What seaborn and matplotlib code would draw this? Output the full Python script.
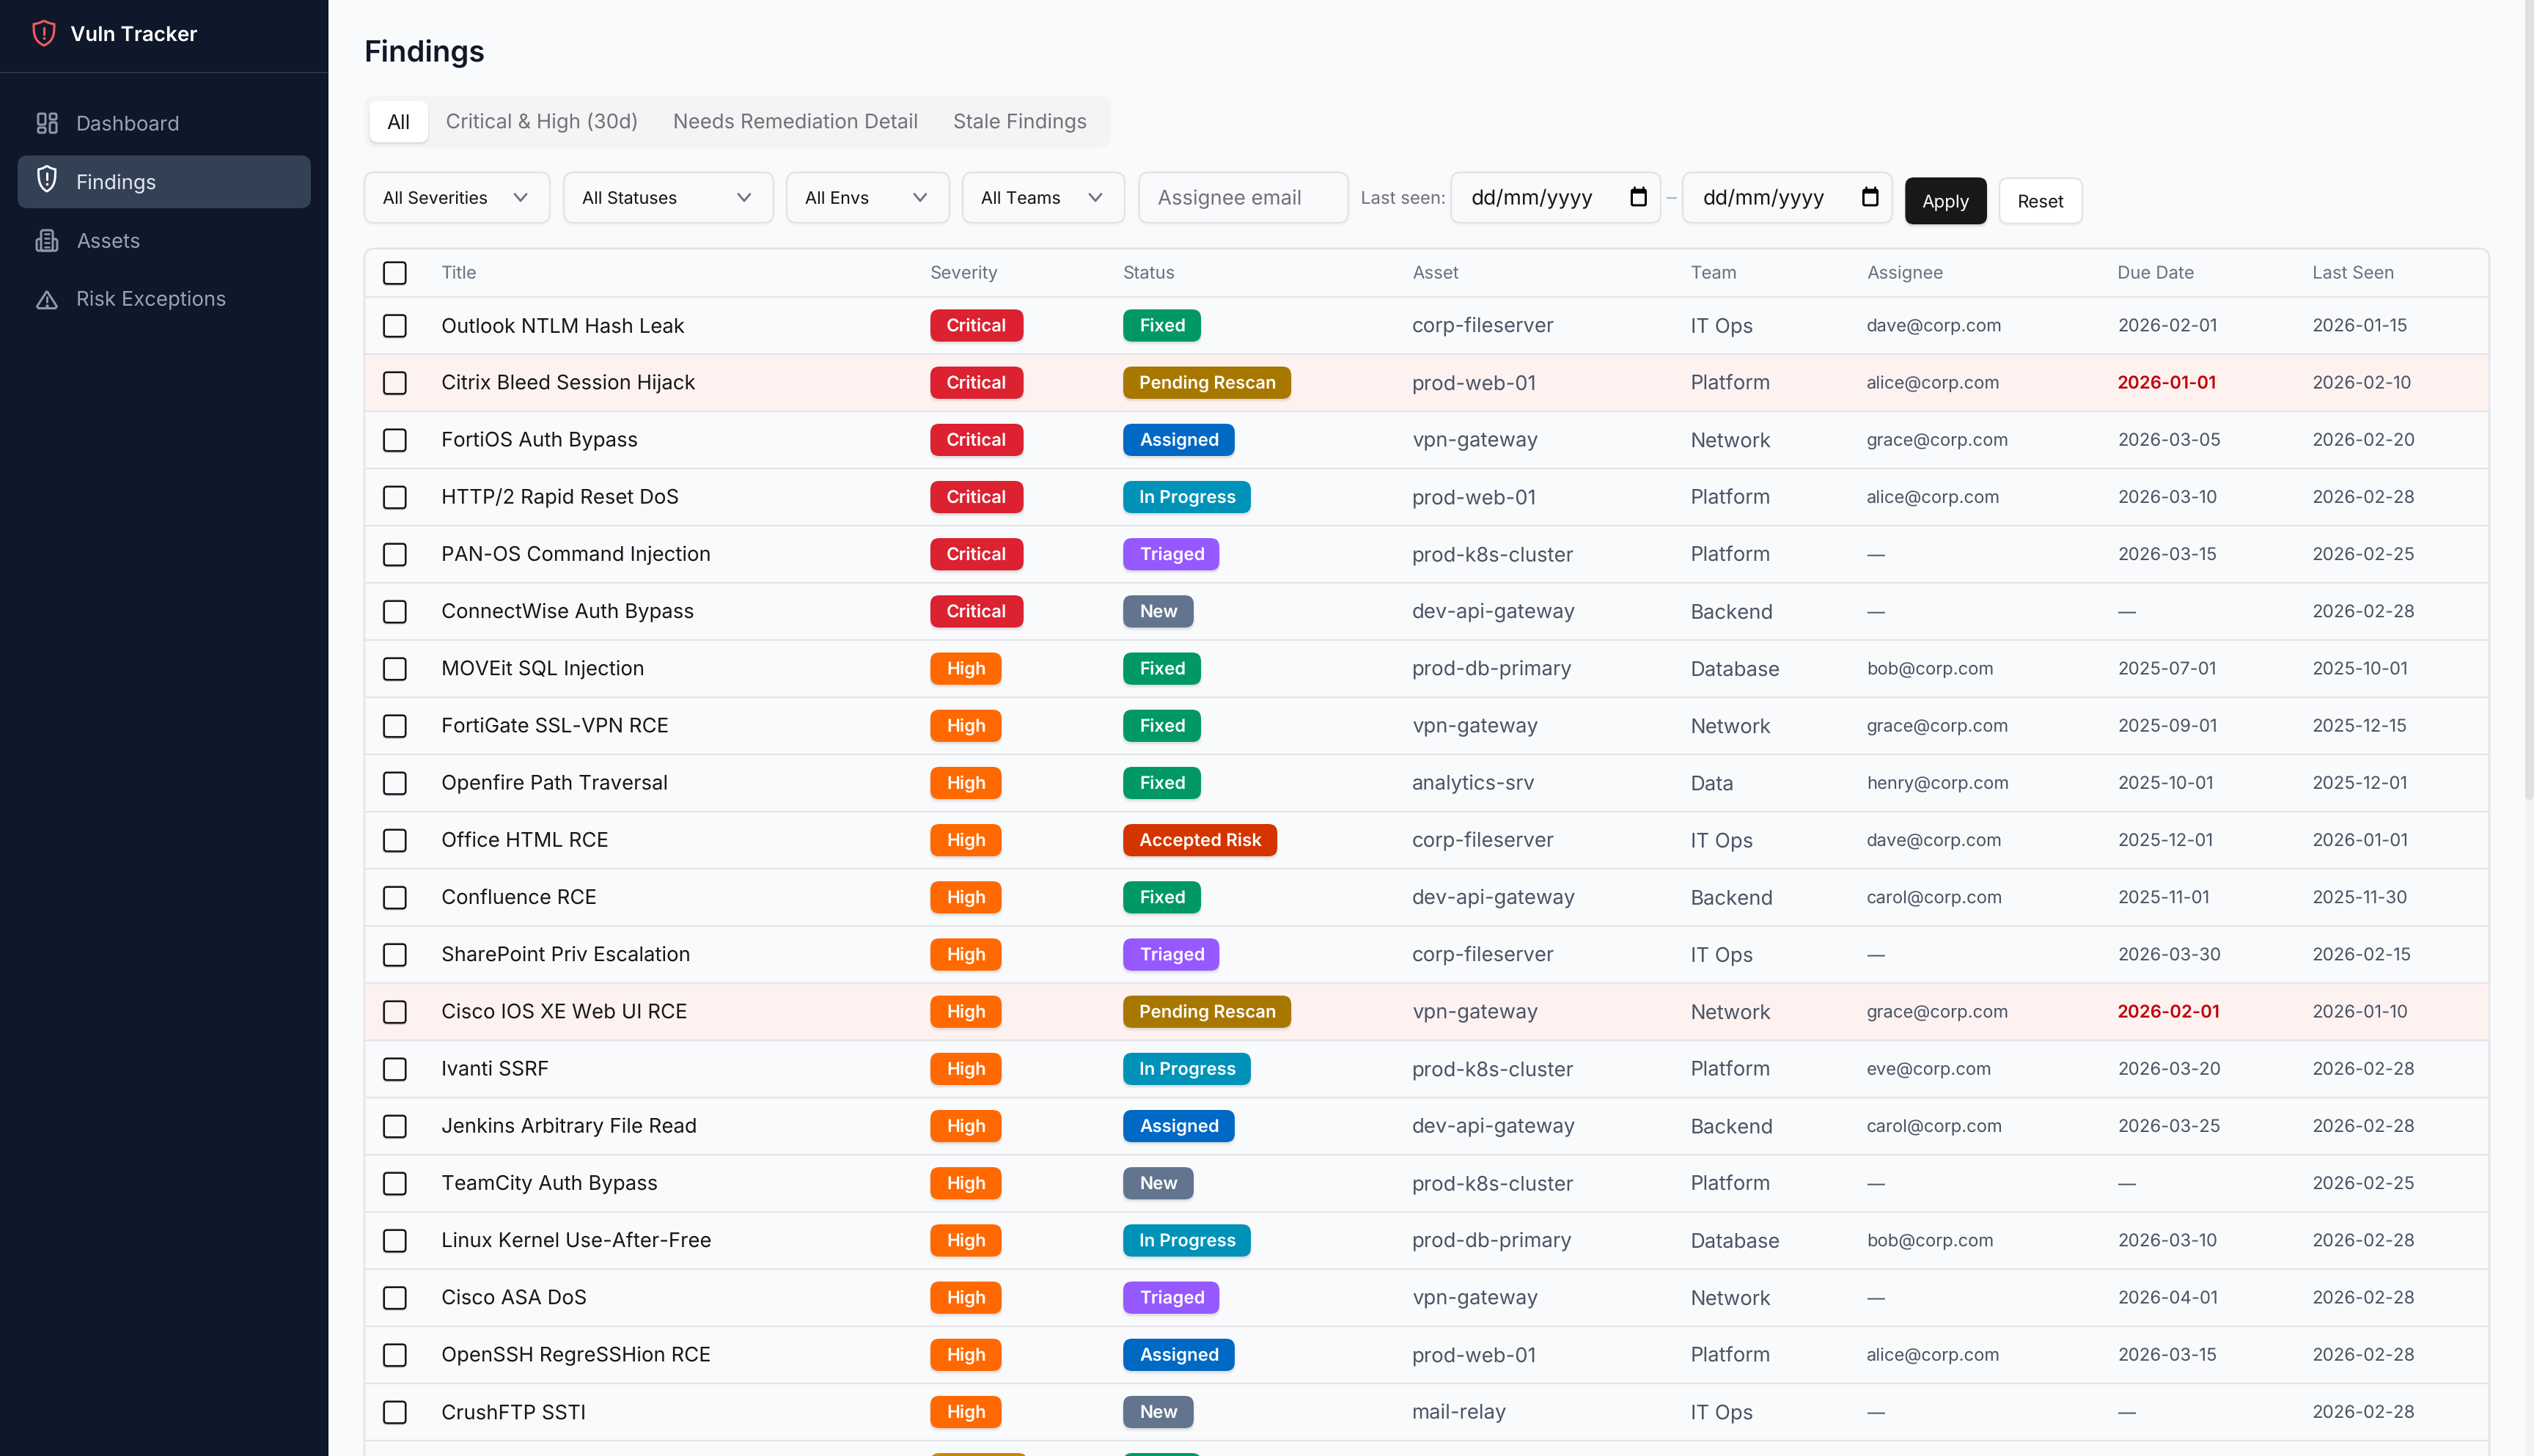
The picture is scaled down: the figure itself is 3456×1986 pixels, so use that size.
import matplotlib
matplotlib.use("Agg")
import matplotlib.pyplot as plt
from matplotlib.patches import FancyBboxPatch, Rectangle, PathPatch
from matplotlib.path import Path
from matplotlib.markers import MarkerStyle
import numpy as np
import pandas as pd
import seaborn as sns

# ---------- data ----------
app_name = "Vuln Tracker"
page_title = "Findings"
nav_items = ["Dashboard", "Findings", "Assets", "Risk Exceptions"]
tabs = ["All", "Critical & High (30d)", "Needs Remediation Detail", "Stale Findings"]
selects = ["All Severities", "All Statuses", "All Envs", "All Teams"]
headers = ["Title", "Severity", "Status", "Asset", "Team", "Assignee", "Due Date", "Last Seen"]

titles = ["Outlook NTLM Hash Leak", "Citrix Bleed Session Hijack", "FortiOS Auth Bypass", "HTTP/2 Rapid Reset DoS",
          "PAN-OS Command Injection", "ConnectWise Auth Bypass", "MOVEit SQL Injection", "FortiGate SSL-VPN RCE",
          "Openfire Path Traversal", "Office HTML RCE", "Confluence RCE", "SharePoint Priv Escalation",
          "Cisco IOS XE Web UI RCE", "Ivanti SSRF", "Jenkins Arbitrary File Read", "TeamCity Auth Bypass",
          "Linux Kernel Use-After-Free", "Cisco ASA DoS", "OpenSSH RegreSSHion RCE", "CrushFTP SSTI", ""]
severities = ["Critical"] * 6 + ["High"] * 14 + ["Medium"]
statuses = ["Fixed", "Pending Rescan", "Assigned", "In Progress", "Triaged", "New", "Fixed", "Fixed", "Fixed",
            "Accepted Risk", "Fixed", "Triaged", "Pending Rescan", "In Progress", "Assigned", "New", "In Progress",
            "Triaged", "Assigned", "New", "Fixed"]
assets = ["corp-fileserver", "prod-web-01", "vpn-gateway", "prod-web-01", "prod-k8s-cluster", "dev-api-gateway",
          "prod-db-primary", "vpn-gateway", "analytics-srv", "corp-fileserver", "dev-api-gateway", "corp-fileserver",
          "vpn-gateway", "prod-k8s-cluster", "dev-api-gateway", "prod-k8s-cluster", "prod-db-primary", "vpn-gateway",
          "prod-web-01", "mail-relay", ""]
teams = ["IT Ops", "Platform", "Network", "Platform", "Platform", "Backend", "Database", "Network", "Data", "IT Ops",
         "Backend", "IT Ops", "Network", "Platform", "Backend", "Platform", "Database", "Network", "Platform", "IT Ops", ""]
assignees = ["dave@corp.com", "alice@corp.com", "grace@corp.com", "alice@corp.com", "—", "—", "bob@corp.com",
             "grace@corp.com", "henry@corp.com", "dave@corp.com", "carol@corp.com", "—", "grace@corp.com",
             "eve@corp.com", "carol@corp.com", "—", "bob@corp.com", "—", "alice@corp.com", "—", ""]
due_dates = ["2026-02-01", "2026-01-01", "2026-03-05", "2026-03-10", "2026-03-15", "—", "2025-07-01", "2025-09-01",
             "2025-10-01", "2025-12-01", "2025-11-01", "2026-03-30", "2026-02-01", "2026-03-20", "2026-03-25", "—",
             "2026-03-10", "2026-04-01", "2026-03-15", "—", ""]
last_seen = ["2026-01-15", "2026-02-10", "2026-02-20", "2026-02-28", "2026-02-25", "2026-02-28", "2025-10-01",
             "2025-12-15", "2025-12-01", "2026-01-01", "2025-11-30", "2026-02-15", "2026-01-10", "2026-02-28",
             "2026-02-28", "2026-02-25", "2026-02-28", "2026-02-28", "2026-02-28", "2026-02-28", ""]
overdue = [False] * 21
overdue[1] = overdue[12] = True

# ---------- styles ----------
BADGE = {"Critical": ("#dc2130", 127), "High": ("#ff6900", 97), "Medium": ("#d08700", 132),
         "Fixed": ("#009966", 106), "Pending Rescan": ("#a87700", 229), "Assigned": ("#0069c4", 152),
         "In Progress": ("#0092b8", 174), "Triaged": ("#9659ff", 131), "New": ("#62748e", 96),
         "Accepted Risk": ("#d43500", 210)}
BG, LINE, INK, MUTED, BODY = "#f9fafc", "#e4e4e7", "#18181b", "#71717a", "#4a5565"
SIDEBAR, ACTIVE, NAVTXT = "#0f172a", "#334155", "#94a3b8"

sns.set_theme(style="white")
plt.rcParams["font.family"] = ["Inter", "DejaVu Sans"]
plt.rcParams["text.hinting"] = "no_hinting"
plt.rcParams["text.hinting_factor"] = 1

W, H = 3456, 1986
fig = plt.figure(figsize=(W / 100, H / 100), dpi=100, facecolor=BG)
ax = fig.add_axes([0, 0, 1, 1])
ax.set_facecolor(BG)
PX = 72 / 100
BODY_PX = 27.5


def rrect(x0, y0, x1, y1, r, fc, ec="none", lw=0, shadow=0.0, z=2):
    if shadow:
        for grow, dy, a in ((1.5, 3, shadow * 0.5), (0.5, 2, shadow)):
            ax.add_patch(FancyBboxPatch((x0 - grow, y0 + dy), x1 - x0 + 2 * grow, y1 - y0 + grow,
                                        boxstyle=f"round,pad=0,rounding_size={r}", fc="black", ec="none",
                                        alpha=a, zorder=z - 0.1))
    ax.add_patch(FancyBboxPatch((x0, y0), x1 - x0, y1 - y0, boxstyle=f"round,pad=0,rounding_size={r}",
                                fc=fc, ec=ec, lw=lw * PX, zorder=z))


def txt(x, y, s, px=28, color=INK, weight="normal", ha="left", z=5):
    ax.text(x, y, s, fontsize=px * PX, color=color, fontweight=weight, ha=ha, va="baseline", zorder=z, clip_on=True)


def stroke(verts, color, lw=3.0, z=4):
    vs = np.array(verts, float)
    ax.add_patch(PathPatch(Path(vs), fc="none", ec=color, lw=lw * PX, zorder=z, capstyle="round", joinstyle="round"))


def chevron(cx, cy, color="#71717a"):
    stroke([(cx - 8, cy - 4.5), (cx, cy + 5), (cx + 8, cy - 4.5)], color, 2.8)


def calendar(cx, cy):
    rrect(cx - 9.5, cy - 10, cx + 9.5, cy + 11, 2, "none", ec="black", lw=3, z=4)
    ax.add_patch(Rectangle((cx - 10, cy - 11), 20, 6, fc="black", ec="none", zorder=4))
    for dx in (-6, 6):
        stroke([(cx + dx, cy - 14), (cx + dx, cy - 10)], "black", 2.6)


# ---------- table rows ----------
row_h, row0 = 78, 444
n_rows = len(titles)
row_y = [row0 + i * row_h for i in range(n_rows)]
df = pd.DataFrame({"x": 537.5, "y": row_y, "overdue": overdue})

rrect(497, 339, 3395, 2100, 14, BG, ec=LINE, lw=2.5, z=1)
for i, y in enumerate(row_y):
    if overdue[i]:
        ax.add_patch(Rectangle((498, y - row_h / 2 + 1), 2896, row_h - 2, fc="#fef2f1", ec="none", zorder=1.2))
ax.hlines([row0 - row_h / 2 + i * row_h for i in range(n_rows + 1)], 498, 3394, color=LINE, lw=2.2 * PX, zorder=1.5)

# checkboxes through seaborn, with a rounded-square marker
k, a = 0.14, 0.5
box_path = Path(
    [(-a + k, -a), (a - k, -a), (a, -a), (a, -a + k), (a, a - k), (a, a), (a - k, a), (-a + k, a), (-a, a),
     (-a, a - k), (-a, -a + k), (-a, -a), (-a + k, -a), (-a + k, -a)],
    [Path.MOVETO, Path.LINETO, Path.CURVE3, Path.CURVE3, Path.LINETO, Path.CURVE3, Path.CURVE3, Path.LINETO,
     Path.CURVE3, Path.CURVE3, Path.LINETO, Path.CURVE3, Path.CURVE3, Path.CLOSEPOLY])
mark = MarkerStyle(box_path)
size = (29.5 * PX) ** 2
box_df = pd.concat([df[df.y < row0 + 20 * row_h],
                    pd.DataFrame({"x": [537.5], "y": [372], "overdue": [False]})])
sns.scatterplot(data=box_df, x="x", y="y", marker=mark, s=size * 1.12, color="black", alpha=0.10, edgecolor="none",
                ax=ax, legend=False, zorder=2)
ax.collections[-1].set_offsets(ax.collections[-1].get_offsets() + np.array([0, 2.5]))
for flag, fill in ((False, BG), (True, "#fef2f1")):
    sns.scatterplot(data=box_df[box_df.overdue == flag], x="x", y="y", marker=mark, s=size, color=fill,
                    edgecolor=INK, linewidth=2.6 * PX, ax=ax, legend=False, zorder=3)

col_x = dict(title=602, sev=1269, status=1532, asset=1926, team=2305.5, assignee=2546, due=2888, seen=3153.5)
for h, x in zip(headers, col_x.values()):
    txt(x, 380, h, 24, "#6a7282")

for i, y in enumerate(row_y):
    txt(col_x["title"], y + 9.5, titles[i], BODY_PX, INK)
    txt(col_x["asset"], y + 9.5, assets[i], BODY_PX, BODY)
    txt(col_x["team"], y + 9.5, teams[i], BODY_PX, BODY)
    txt(col_x["assignee"], y + 8, assignees[i], 23.8, BODY)
    if overdue[i]:
        txt(col_x["due"], y + 8, due_dates[i], 24, "#c10007", "semibold")
    else:
        txt(col_x["due"], y + 8, due_dates[i], 24, BODY)
    txt(col_x["seen"], y + 8, last_seen[i], 24, BODY)
    for key, label in (("sev", severities[i]), ("status", statuses[i])):
        col, wid = BADGE[label]
        x0 = col_x[key]
        rrect(x0, y - 22, x0 + wid, y + 22, 12, col, shadow=0.07, z=3)
        if y + 9 < H:  # the last row's labels fall below the page fold
            txt(x0 + 22, y + 8, label, 24, "white", "semibold")

# ---------- sidebar ----------
ax.add_patch(Rectangle((0, 0), 448, H, fc=SIDEBAR, ec="none", zorder=6))
ax.add_patch(Rectangle((0, 98), 448, 2, fc="#293548", ec="none", zorder=7))
ax.add_patch(FancyBboxPatch((24, 212), 400, 72, boxstyle="round,pad=0,rounding_size=14", fc=ACTIVE, ec="none", zorder=7))


def s_text(x, y, t, px, color, weight="normal"):
    ax.text(x, y, t, fontsize=px * PX, color=color, fontweight=weight, va="baseline", zorder=9)


s_text(96, 56, app_name, 27.8, "white", "semibold")
nav_y = [168, 248, 328, 407]
for t, y in zip(nav_items, nav_y):
    s_text(104, y + 10, t, BODY_PX, "#e2e8f0" if t == "Findings" else NAVTXT)


def shield_s(cx, top, bot, hw, color, lw):
    h = bot - top
    v = [(cx, top), (cx + hw * 0.45, top + h * .13), (cx + hw, top + h * .14), (cx + hw, top + h * .14),
         (cx + hw, top + h * .5), (cx + hw, top + h * .82), (cx, bot),
         (cx - hw, top + h * .82), (cx - hw, top + h * .5), (cx - hw, top + h * .14),
         (cx - hw, top + h * .14), (cx - hw * 0.45, top + h * .13), (cx, top)]
    ax.add_patch(PathPatch(Path(v, [Path.MOVETO] + [Path.CURVE4] * 12), fc="none", ec=color, lw=lw * PX, zorder=9,
                           joinstyle="round"))
    ax.plot([cx, cx], [top + h * .28, top + h * .55], color=color, lw=lw * PX, zorder=9, solid_capstyle="round")
    ax.plot([cx], [top + h * .72], "o", ms=lw * 1.2 * PX, color=color, mew=0, zorder=9)


shield_s(60, 28, 62, 14, "#f0595f", 3.2)
shield_s(64, 226, 261, 11.5, "white", 3)
icon = "#8e99a8"
for (x0, y0, x1, y1) in ((52, 155, 62, 170), (68, 155, 77, 163), (52, 174, 62, 181), (68, 167, 77, 181)):
    rrect(x0, y0, x1, y1, 2, "none", ec=icon, lw=3, z=9)
rrect(56, 314, 72, 342, 3, "none", ec=icon, lw=3, z=9)
rrect(50, 326, 78, 342, 3, "none", ec=icon, lw=3, z=8.5)
ax.add_patch(Rectangle((56, 318), 16, 22, fc=SIDEBAR, ec="none", zorder=8.7))
for ly in (319, 325, 331, 337):
    ax.plot([61, 67], [ly, ly], color=icon, lw=2.6 * PX, zorder=9, solid_capstyle="round")
ax.add_patch(PathPatch(Path([(64, 397), (77.5, 418), (75.5, 420.5), (52.5, 420.5), (50.5, 418), (64, 397)]),
                       fc="none", ec=icon, lw=3 * PX, zorder=9, joinstyle="round"))
ax.plot([64, 64], [405, 412], color=icon, lw=2.8 * PX, zorder=9)
ax.plot([64], [416.5], "o", ms=3 * PX, color=icon, zorder=9)

# ---------- page header and filters ----------
txt(496, 84, page_title, 40, "#101828", "semibold")

rrect(497, 130, 1515, 202, 16, "#f4f4f5")
rrect(504, 138, 584, 194, 12, "white", shadow=0.06, z=3)
for t, x, c in zip(tabs, (527, 608, 918, 1300), (INK, MUTED, MUTED, MUTED)):
    txt(x, 175.5, t, BODY_PX, c)

sel_boxes = [(497, 750, 522), (769, 1055, 794), (1073, 1295, 1098), (1313, 1534, 1338)]
for t, (x0, x1, tx) in zip(selects, sel_boxes):
    rrect(x0, 235, x1, 304, 14, BG, ec=LINE, lw=2.4, shadow=0.025, z=3)
    txt(tx, 278, t, 23.4, INK)
    chevron(x1 - 40, 269)

rrect(1553.5, 235, 1839, 304, 14, BG, ec=LINE, lw=2.4, shadow=0.025, z=3)
txt(1579, 279, "Assignee email", BODY_PX, MUTED)
txt(1856, 278, "Last seen:", 24, MUTED)
for x0, x1 in ((1979, 2265), (2295, 2581)):
    rrect(x0, 235, x1, 304, 14, BG, ec=LINE, lw=2.4, shadow=0.025, z=3)
    txt(x0 + 28, 279, "dd/mm/yyyy", 28, INK)
    calendar(x1 - 30, 269)
ax.plot([2274, 2286], [270, 270], color="#b0b8c4", lw=2.4 * PX, zorder=4)

rrect(2598.5, 242, 2710, 306, 12, "#18181b", shadow=0.08, z=3)
txt(2654, 283, "Apply", 24, "#fafafa", ha="center")
rrect(2727, 243, 2840, 305, 12, "white", ec=LINE, lw=2.4, shadow=0.025, z=3)
txt(2783.5, 283, "Reset", 24, INK, ha="center")

# ---------- scrollbar ----------
ax.add_patch(Rectangle((3444, 0), 12, H, fc="#f4f4f4", ec="none", zorder=6))
ax.add_patch(FancyBboxPatch((3444, -20), 12, 1111, boxstyle="round,pad=0,rounding_size=6", fc="#e0e0e0", ec="none", zorder=7))

ax.set_xlim(0, W)
ax.set_ylim(H, 0)
ax.axis("off")
fig.savefig("out.png", dpi=100, facecolor=BG)
